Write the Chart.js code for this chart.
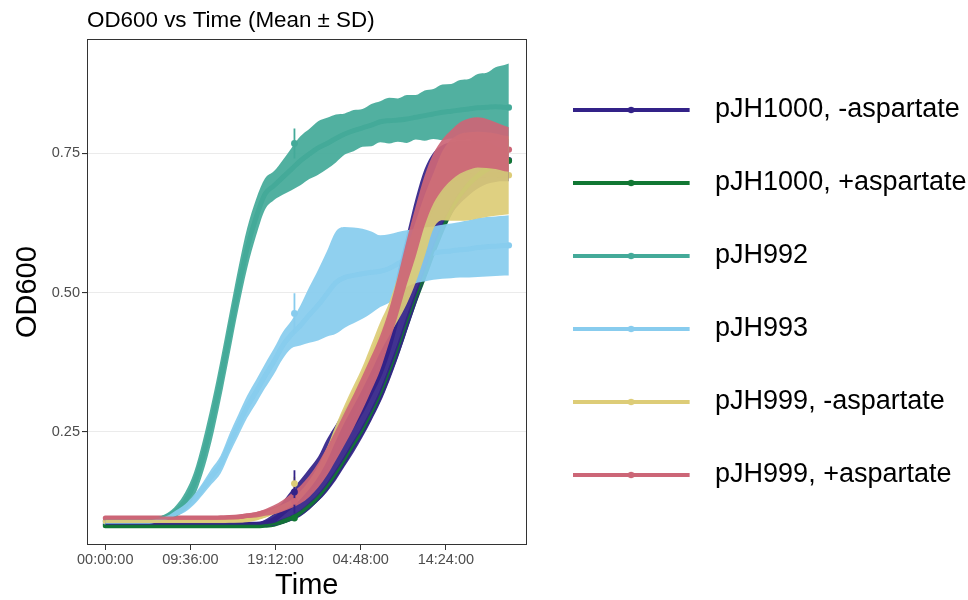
<!DOCTYPE html>
<html>
<head>
<meta charset="utf-8">
<script src="https://cdn.jsdelivr.net/npm/chart.js@4.4.1/dist/chart.umd.min.js"></script>
<style>
  html, body { margin: 0; padding: 0; background: #fff; }
  #wrap { width: 968px; height: 600px; position: relative; }
</style>
</head>
<body>
<div id="wrap"><canvas id="chart"></canvas></div>
<script>
// time since start, hours
const hours = [0,1,2,3,4,5,6,7,8,9,10,11,12,13,14,15,16,17,18,19,20,21,22,23,24,25,26,27,28,29,30,31,32,33,34,35,36,37,38,39,40,41,42,43,44,45,45.5];

const seriesNames = ['pJH1000, -aspartate', 'pJH1000, +aspartate', 'pJH992', 'pJH993', 'pJH999, -aspartate', 'pJH999, +aspartate'];
const seriesColors = ['#332288', '#117733', '#44AA99', '#88CCEE', '#DDCC77', '#CC6677'];

// mean OD600 per hour
const meanJH1000Minus = [0.084,0.084,0.084,0.084,0.084,0.084,0.084,0.084,0.084,0.084,0.084,0.084,0.084,0.084,0.084,0.084,0.084,0.084,
  0.086,0.092,0.1045,0.1175,0.131,0.147,0.165,0.1895,0.213,0.239,0.2645,0.291,0.3225,0.356,0.4025,0.4615,0.5175,0.574,0.6235,0.661,0.6875,0.705,0.716,0.724,0.73,0.734,0.737,0.738,0.738];
const meanJH1000Plus = [0.081,0.081,0.081,0.081,0.081,0.081,0.081,0.081,0.081,0.081,0.081,0.081,0.081,0.081,0.081,0.081,0.081,0.081,
  0.082,0.084,0.089,0.095,0.104,0.117,0.132,0.151,0.174,0.199,0.226,0.252,0.282,0.315,0.355,0.398,0.445,0.49,0.532,0.575,0.615,0.648,0.675,0.695,0.71,0.722,0.73,0.736,0.737];
const meanJH992 = [0.09,0.09,0.09,0.09,0.09,0.09,0.093,0.098,0.108,0.125,0.155,0.205,0.268,0.343,0.425,0.507,0.58,0.635,0.677,0.692,0.707,
  0.722,0.737,0.749,0.76,0.768,0.777,0.785,0.791,0.796,0.801,0.807,0.809,0.81,0.812,0.815,0.818,0.821,0.824,0.826,0.828,0.83,0.832,0.833,0.834,0.833,0.8325];
const meanJH993 = [0.088,0.088,0.088,0.088,0.088,0.088,0.091,0.096,0.104,0.113,0.128,0.148,0.17,0.191,0.228,0.262,0.295,0.322,0.35,0.376,0.405,
  0.425,0.441,0.46,0.4775,0.498,0.518,0.5275,0.531,0.534,0.5365,0.5385,0.5435,0.552,0.561,0.566,0.5685,0.571,0.5735,0.575,0.577,0.5785,0.581,0.5825,0.5835,0.5845,0.585];
const meanJH999Minus = [0.089,0.089,0.089,0.089,0.089,0.089,0.089,0.089,0.089,0.089,0.089,0.089,0.089,0.089,
  0.0895,0.09,0.092,0.095,0.1,0.107,0.114,0.122,0.136,0.155,0.179,0.21,0.248,0.283,0.315,0.347,0.383,0.42,0.452,0.49,0.53,0.573,0.62,0.665,0.692,0.702,0.707,0.709,0.711,0.712,0.712,0.711,0.711];
const meanJH999Plus = [0.095,0.095,0.095,0.095,0.095,0.095,0.095,0.095,0.095,0.095,0.095,0.095,0.095,
  0.0955,0.096,0.097,0.099,0.101,0.105,0.11,0.117,0.126,0.137,0.152,0.172,0.197,0.226,0.256,0.287,0.32,0.355,0.392,0.44,0.495,0.555,0.61,0.665,0.705,0.73,0.747,0.76,0.767,0.77,0.768,0.764,0.759,0.757];

// standard deviation per hour
const sdJH1000Minus = [0.003,0.003,0.003,0.003,0.003,0.003,0.003,0.003,0.003,0.003,0.003,0.003,0.003,0.003,0.003,0.003,0.003,0.003,
  0.006,0.011,0.0195,0.0275,0.033,0.037,0.04,0.0475,0.05,0.051,0.0515,0.051,0.0525,0.054,0.0625,0.0785,0.0875,0.096,0.0985,0.091,0.0775,0.065,0.056,0.049,0.043,0.039,0.038,0.038,0.038];
const sdJH1000Plus = [0.002,0.002,0.002,0.002,0.002,0.002,0.002,0.002,0.002,0.002,0.002,0.002,0.002,0.002,0.002,0.002,0.002,0.002,0.002,0.002,
  0.004,0.004,0.004,0.004,0.004,0.004,0.004,0.004,0.004,0.004,0.004,0.004,0.004,0.004,0.004,0.004,
  0.006,0.006,0.006,0.006,0.006,0.006,0.006,0.006,0.006,0.006,0.006];
const sdJH992 = [0.003,0.003,0.003,0.003,0.003,0.003,0.004,0.006,0.01,0.016,0.022,0.029,0.034,0.036,0.037,0.037,0.036,0.033,0.028,0.026,0.031,
  0.038,0.044,0.045,0.048,0.046,0.043,0.037,0.037,0.034,0.038,0.037,0.041,0.039,0.043,0.04,0.045,0.045,0.05,0.049,0.054,0.054,0.061,0.062,0.071,0.076,0.079];
const sdJH993 = [0.003,0.003,0.003,0.003,0.003,0.003,0.003,0.003,0.005,0.007,0.009,0.011,0.014,0.016,0.018,0.019,0.02,0.021,0.022,0.023,0.024,
  0.025,0.036,0.05,0.0635,0.077,0.092,0.0905,0.086,0.081,0.0735,0.0645,0.0615,0.057,0.051,0.049,0.0485,0.048,0.0485,0.049,0.05,0.0515,0.053,0.0535,0.0535,0.0535,0.054];
const sdJH999Minus = [0.003,0.003,0.003,0.003,0.003,0.003,0.003,0.003,0.003,0.003,0.003,0.003,0.003,0.003,0.003,0.003,0.003,0.003,
  0.004,0.005,0.006,0.006,0.007,0.008,0.01,0.012,0.014,0.016,0.018,0.02,0.024,0.027,0.03,0.04,0.05,0.055,0.055,0.05,0.062,0.073,0.078,0.079,0.078,0.076,0.074,0.071,0.07];
const sdJH999Plus = [0.003,0.003,0.003,0.003,0.003,0.003,0.003,0.003,0.003,0.003,0.003,0.003,0.003,0.003,0.003,
  0.004,0.004,0.005,0.006,0.008,0.01,0.013,0.016,0.019,0.022,0.025,0.027,0.029,0.03,0.031,0.031,0.031,0.03,0.035,0.04,0.045,0.045,0.045,0.045,0.045,0.046,0.046,0.045,0.044,0.042,0.041,0.04];

// single outlier reading at about 21:20
const spikeHour = 21.33;
const spikeMean = [0.142, 0.095, 0.768, 0.4627, 0.157, 0.125];
const spikeSd = [0.039, 0.004, 0.027, 0.036, 0.012, 0.005];

const xTickHours = [0, 9.6, 19.2, 28.8, 38.4];
const xTickLabels = ['00:00:00', '09:36:00', '19:12:00', '04:48:00', '14:24:00'];
const yTicks = [0.25, 0.5, 0.75];
const yTickLabels = ['0.25', '0.50', '0.75'];

const means = [meanJH1000Minus, meanJH1000Plus, meanJH992, meanJH993, meanJH999Minus, meanJH999Plus];
const sds = [sdJH1000Minus, sdJH1000Plus, sdJH992, sdJH993, sdJH999Minus, sdJH999Plus];
// lower number = drawn later (on top)
const bandOrder = [46, 45, 44, 43, 42, 41];
const lineOrder = [56, 55, 54, 53, 52, 51];

function alpha(hex, a) {
  const n = parseInt(hex.slice(1), 16);
  return 'rgba(' + (n >> 16) + ',' + ((n >> 8) & 255) + ',' + (n & 255) + ',' + a + ')';
}

const datasets = [];
const last = hours.length - 1;
seriesNames.forEach((name, i) => {
  const m = means[i], s = sds[i], col = seriesColors[i];
  datasets.push({
    label: name,
    data: hours.map((h, k) => ({x: h, y: m[k]})),
    borderColor: col, borderWidth: 5, borderCapStyle: 'round', borderJoinStyle: 'round',
    cubicInterpolationMode: 'monotone',
    pointRadius: ctx => ctx.dataIndex === last ? 3.2 : 0,
    pointBackgroundColor: col, pointBorderWidth: 0,
    fill: false, order: lineOrder[i]
  });
  const lowIdx = datasets.length;
  datasets.push({
    label: name + ' lo',
    data: hours.map((h, k) => ({x: h, y: m[k] - s[k]})),
    borderColor: 'rgba(0,0,0,0)', borderWidth: 0, pointRadius: 0,
    cubicInterpolationMode: 'monotone', fill: false, order: bandOrder[i]
  });
  datasets.push({
    label: name + ' hi',
    data: hours.map((h, k) => ({x: h, y: m[k] + s[k]})),
    borderColor: 'rgba(0,0,0,0)', borderWidth: 0, pointRadius: 0,
    cubicInterpolationMode: 'monotone',
    fill: {target: lowIdx}, backgroundColor: alpha(col, 0.93), order: bandOrder[i]
  });
  datasets.push({
    label: name + ' spike',
    data: [{x: spikeHour, y: spikeMean[i] - spikeSd[i]}, {x: spikeHour, y: spikeMean[i] + spikeSd[i]}],
    borderColor: col, borderWidth: 1.8, pointRadius: 0, fill: false, order: 20
  });
  datasets.push({
    label: name + ' spike point',
    data: [{x: spikeHour, y: spikeMean[i]}],
    showLine: false, pointRadius: 3.4, pointBackgroundColor: col, pointBorderWidth: 0, order: 10
  });
});

function legendIcon(col) {
  const c = document.createElement('canvas');
  c.width = 129; c.height = 10;
  const g = c.getContext('2d');
  g.strokeStyle = col; g.lineWidth = 4;
  g.beginPath(); g.moveTo(0, 5); g.lineTo(117, 5); g.stroke();
  g.fillStyle = col;
  g.beginPath(); g.arc(58.5, 5, 3.2, 0, Math.PI * 2); g.fill();
  return c;
}
const icons = seriesColors.map(legendIcon);

const panelBorder = {
  id: 'panelBorder',
  afterDatasetsDraw(chart) {
    const {ctx, chartArea: a} = chart;
    ctx.save();
    ctx.strokeStyle = '#333333';
    ctx.lineWidth = 1;
    ctx.strokeRect(Math.round(a.left) + 0.5, Math.round(a.top) + 0.5,
      Math.round(a.right) - Math.round(a.left) - 1, Math.round(a.bottom) - Math.round(a.top) - 1);
    ctx.restore();
  }
};

Chart.defaults.font.family = "'Liberation Sans', Arial, sans-serif";

new Chart(document.getElementById('chart'), {
  type: 'line',
  data: {datasets},
  plugins: [panelBorder],
  options: {
    responsive: true,
    maintainAspectRatio: false,
    animation: false,
    events: [],
    layout: {padding: {right: -8.5, bottom: 15}},
    scales: {
      x: {
        type: 'linear', min: -2.06, max: 47.5,
        afterBuildTicks: s => { s.ticks = xTickHours.map(v => ({value: v})); },
        afterFit: s => { s.height = 40; },
        grid: {drawOnChartArea: false, drawTicks: true, tickLength: 5, tickColor: '#333333'},
        border: {display: false},
        ticks: {callback: (v, i) => xTickLabels[i], color: '#4d4d4d', font: {size: 14.5}, padding: 1, maxRotation: 0, autoSkip: false},
        title: {display: true, text: 'Time', color: '#000', font: {size: 29}, padding: {top: 0, bottom: -18}}
      },
      y: {
        type: 'linear', min: 0.0466, max: 0.9552,
        afterBuildTicks: s => { s.ticks = yTicks.map(v => ({value: v})); },
        afterFit: s => { s.width = 87; },
        grid: {color: '#ebebeb', lineWidth: 1.1, tickLength: 5, tickColor: '#333333'},
        border: {display: false},
        ticks: {callback: (v, i) => yTickLabels[i], color: '#4d4d4d', font: {size: 14.5}, padding: 2},
        title: {display: true, text: 'OD600', color: '#000', font: {size: 29}, padding: {top: 10.6, bottom: 0}}
      }
    },
    plugins: {
      title: {
        display: true, text: 'OD600 vs Time (Mean ± SD)', align: 'start', fullSize: false,
        color: '#000', font: {size: 22.4, weight: 'normal'}, padding: {top: 7, bottom: 5.4}
      },
      legend: {
        position: 'right', align: 'center', maxWidth: 500,
        labels: {
          usePointStyle: true, pointStyleWidth: 129, padding: 46,
          color: '#000', font: {size: 27},
          generateLabels: () => seriesNames.map((name, i) => ({
            text: name, pointStyle: icons[i], fillStyle: seriesColors[i],
            strokeStyle: seriesColors[i], lineWidth: 0, hidden: false, datasetIndex: i * 5
          }))
        }
      },
      tooltip: {enabled: false}
    }
  }
});
</script>
</body>
</html>
